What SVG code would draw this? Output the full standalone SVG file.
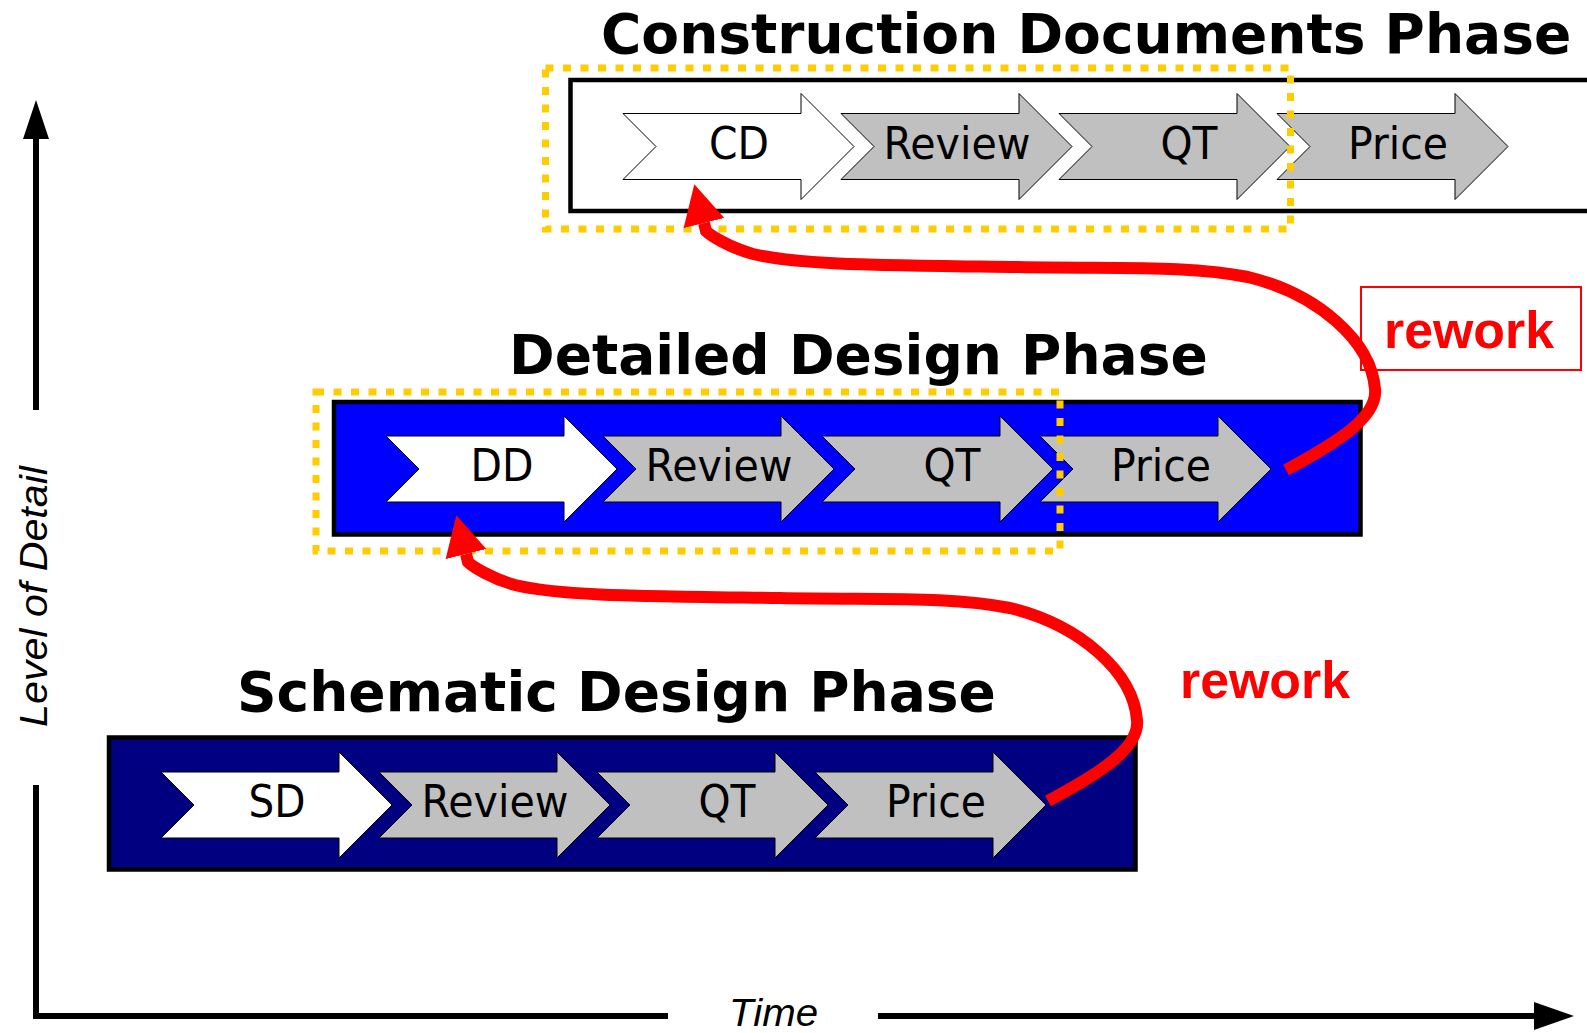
<svg xmlns="http://www.w3.org/2000/svg" xmlns:xlink="http://www.w3.org/1999/xlink" width="1587" height="1033" viewBox="0 0 1587 1033">
  <style>
    .title { font-family: "DejaVu Sans", Verdana, sans-serif; font-weight: bold; font-size: 55px; fill: #000; }
    .lbl { font-family: "DejaVu Sans", Verdana, sans-serif; font-size: 44px; fill: #000; text-anchor: middle; }
    .axis-lbl { font-family: "Liberation Sans", Arial, sans-serif; font-style: italic; font-size: 39px; fill: #000; }
    .rework { font-family: "Liberation Sans", Arial, sans-serif; font-weight: bold; font-size: 52px; fill: #FF0000; }
    .box { stroke: #000; stroke-width: 4.5; }
    .dots { fill: none; stroke: #FFCC00; stroke-width: 7; stroke-dasharray: 8 9.5; }
    .w { fill: #FFFFFF; stroke: #000; stroke-width: 1; }
    .g { fill: #C0C0C0; stroke: #000; stroke-width: 1; }
    .axis { stroke: #000; stroke-width: 6; fill: none; }
    .rw { fill: none; stroke: #FF0000; stroke-width: 12; marker-end: url(#redhead); }
  </style>
  <defs>
    <polygon id="chev" points="0,-33 178,-33 178,-53 231,0 178,53 178,33 0,33 33,0"/>
    <marker id="redhead" markerUnits="userSpaceOnUse" markerWidth="42" markerHeight="44" refX="0" refY="21" orient="auto" viewBox="0 0 42 42">
      <polygon points="0,0 40,21 0,42" fill="#FF0000"/>
    </marker>
  </defs>
  <rect width="1587" height="1033" fill="#FFFFFF"/>

  <!-- Axes -->
  <g id="axes">
    <polygon points="23,139 36,100 49,139" fill="#000"/>
    <line class="axis" x1="36" y1="137" x2="36" y2="410"/>
    <polyline class="axis" points="36,785 36,1016 668,1016" stroke-linejoin="miter"/>
    <line class="axis" x1="878" y1="1016" x2="1536" y2="1016"/>
    <polygon points="1534,1002 1574,1016 1534,1030" fill="#000"/>
    <text class="axis-lbl" transform="translate(47,727) rotate(-90)" textLength="261" lengthAdjust="spacingAndGlyphs">Level of Detail</text>
    <text class="axis-lbl" x="729" y="1026" textLength="89" lengthAdjust="spacingAndGlyphs">Time</text>
  </g>

  <!-- Schematic Design Phase -->
  <g id="schematic">
    <text class="title" x="237" y="711">Schematic Design Phase</text>
    <rect class="box" x="109" y="737.5" width="1026.5" height="132" fill="#000080"/>
    <use href="#chev" class="w" transform="translate(161,805)"/>
    <use href="#chev" class="g" transform="translate(379,805)"/>
    <use href="#chev" class="g" transform="translate(597,805)"/>
    <use href="#chev" class="g" transform="translate(815,805)"/>
    <text class="lbl" x="277" y="817" textLength="57" lengthAdjust="spacingAndGlyphs">SD</text>
    <text class="lbl" x="495" y="817" textLength="147" lengthAdjust="spacingAndGlyphs">Review</text>
    <text class="lbl" x="727" y="817" textLength="57" lengthAdjust="spacingAndGlyphs">QT</text>
    <text class="lbl" x="936" y="817" textLength="100" lengthAdjust="spacingAndGlyphs">Price</text>
  </g>

  <!-- Detailed Design Phase -->
  <g id="detailed">
    <text class="title" x="509" y="374">Detailed Design Phase</text>
    <rect class="box" x="334" y="402" width="1026.5" height="132.5" fill="#0000FF"/>
    <use href="#chev" class="w" transform="translate(386,469)"/>
    <use href="#chev" class="g" transform="translate(603,469)"/>
    <use href="#chev" class="g" transform="translate(822,469)"/>
    <use href="#chev" class="g" transform="translate(1040,469)"/>
    <text class="lbl" x="502" y="481" textLength="63" lengthAdjust="spacingAndGlyphs">DD</text>
    <text class="lbl" x="719" y="481" textLength="147" lengthAdjust="spacingAndGlyphs">Review</text>
    <text class="lbl" x="952" y="481" textLength="57" lengthAdjust="spacingAndGlyphs">QT</text>
    <text class="lbl" x="1161" y="481" textLength="100" lengthAdjust="spacingAndGlyphs">Price</text>
    <rect class="dots" x="316" y="392" width="744" height="159"/>
  </g>

  <!-- Construction Documents Phase -->
  <g id="construction">
    <text class="title" x="601" y="53">Construction Documents Phase</text>
    <rect class="box" x="570.5" y="80" width="1100" height="131" fill="#FFFFFF"/>
    <use href="#chev" class="w" transform="translate(623,146.5)"/>
    <use href="#chev" class="g" transform="translate(841,146.5)"/>
    <use href="#chev" class="g" transform="translate(1059,146.5)"/>
    <use href="#chev" class="g" transform="translate(1277,146.5)"/>
    <text class="lbl" x="739" y="158.5" textLength="60" lengthAdjust="spacingAndGlyphs">CD</text>
    <text class="lbl" x="957" y="158.5" textLength="147" lengthAdjust="spacingAndGlyphs">Review</text>
    <text class="lbl" x="1189" y="158.5" textLength="57" lengthAdjust="spacingAndGlyphs">QT</text>
    <text class="lbl" x="1398" y="158.5" textLength="100" lengthAdjust="spacingAndGlyphs">Price</text>
    <rect class="dots" x="545.5" y="68" width="745" height="161"/>
  </g>

  <!-- rework labels -->
  <g id="rework-upper">
    <rect x="1361" y="287" width="220" height="83" fill="#FFFFFF" stroke="#FF0000" stroke-width="2"/>
    <text class="rework" x="1384" y="348" textLength="170" lengthAdjust="spacingAndGlyphs">rework</text>
  </g>
  <g id="rework-lower">
    <text class="rework" x="1180" y="698" textLength="170" lengthAdjust="spacingAndGlyphs">rework</text>
  </g>

  <!-- Connectors -->
  <g id="connectors">
    <path class="rw" d="M 1048,801 C 1100,773 1140,748 1137,720 C 1133,672 1080,625 1010,608 C 950,596 880,600 780,598 C 640,596 560,596 515,585 C 490,578 472,566 468,562 L 466,554"/>
    <path class="rw" d="M 1286,470 C 1338,442 1378,417 1375,389 C 1371,341 1318,294 1248,277 C 1188,265 1118,269 1018,267 C 878,265 798,265 753,254 C 728,247 710,235 706,231 L 704,223"/>
  </g>
</svg>
